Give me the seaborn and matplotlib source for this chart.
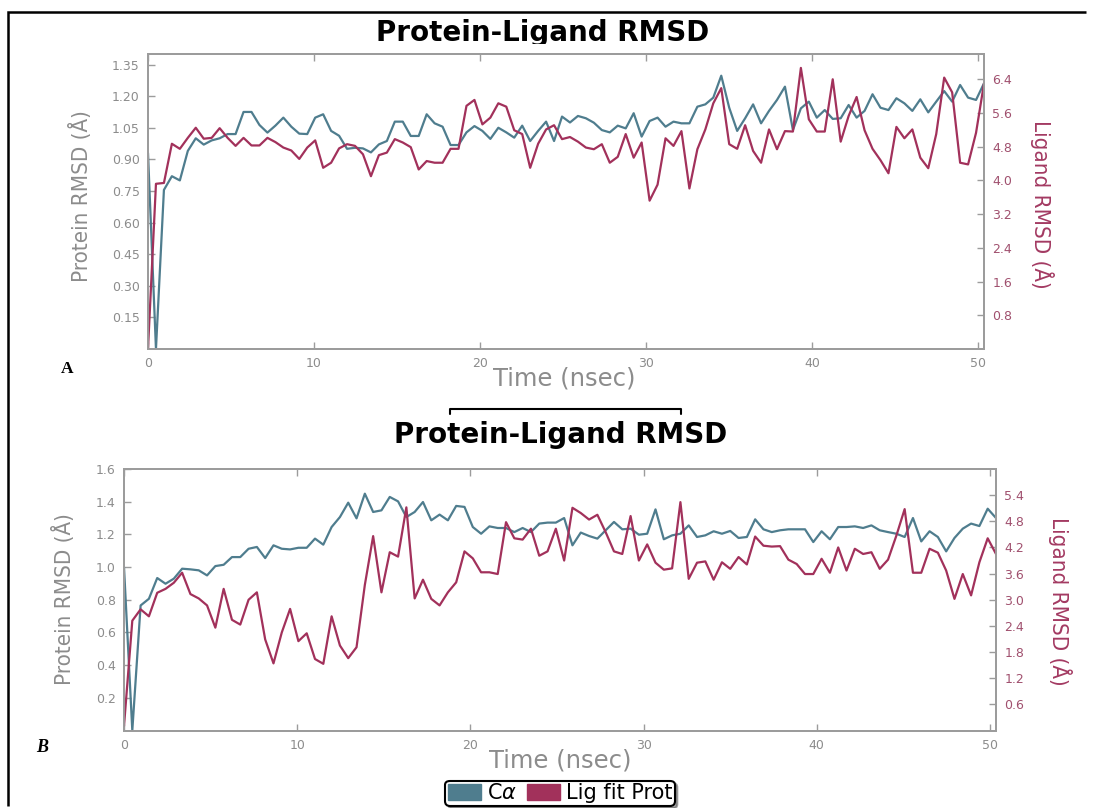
import numpy as np
import pandas as pd
import matplotlib
matplotlib.use("Agg")
import matplotlib.pyplot as plt
from matplotlib import font_manager
from matplotlib.patches import Patch, Rectangle
from matplotlib.lines import Line2D
import seaborn as sns

# ---------------------------------------------------------------- data
N_FRAMES = 106
T_END = 50.35  # ns

# Panel A
ca_rmsd_a = [
    0.93, 0.00, 0.755, 0.82, 0.80, 0.94, 1.00, 0.97, 0.99, 1.00,
    1.02, 1.02, 1.125, 1.125, 1.063, 1.027, 1.06, 1.098, 1.055, 1.022,
    1.02, 1.098, 1.114, 1.035, 1.012, 0.95, 0.955, 0.952, 0.933, 0.971,
    0.987, 1.079, 1.079, 1.011, 1.011, 1.114, 1.071, 1.055, 0.968, 0.968,
    1.028, 1.058, 1.035, 0.997, 1.050, 1.028, 1.003, 1.060, 0.987, 1.035,
    1.079, 0.987, 1.103, 1.075, 1.106, 1.095, 1.074, 1.039, 1.028, 1.060,
    1.047, 1.119, 1.008, 1.082, 1.098, 1.055, 1.079, 1.071, 1.071, 1.150,
    1.161, 1.193, 1.297, 1.145, 1.035, 1.095, 1.161, 1.071, 1.130, 1.182,
    1.245, 1.039, 1.142, 1.174, 1.098, 1.134, 1.092, 1.095, 1.158, 1.098,
    1.130, 1.209, 1.145, 1.134, 1.190, 1.166, 1.130, 1.185, 1.123, 1.174,
    1.224, 1.174, 1.253, 1.193, 1.182, 1.261,
]
lig_rmsd_a = [
    0.00, 3.92, 3.94, 4.87, 4.75, 5.01, 5.25, 4.99, 5.01, 5.24,
    5.01, 4.82, 5.01, 4.83, 4.83, 5.01, 4.91, 4.78, 4.71, 4.51,
    4.78, 4.95, 4.30, 4.42, 4.76, 4.86, 4.82, 4.62, 4.10, 4.60,
    4.66, 4.98, 4.90, 4.79, 4.26, 4.46, 4.42, 4.42, 4.75, 4.75,
    5.77, 5.91, 5.33, 5.49, 5.83, 5.75, 5.19, 5.10, 4.30, 4.87,
    5.21, 5.31, 4.98, 5.03, 4.92, 4.78, 4.74, 4.86, 4.42, 4.56,
    5.10, 4.54, 4.90, 3.52, 3.90, 5.00, 4.82, 5.17, 3.81, 4.74,
    5.21, 5.83, 6.19, 4.86, 4.75, 5.31, 4.70, 4.42, 5.21, 4.74,
    5.17, 5.16, 6.67, 5.45, 5.16, 5.16, 6.40, 4.92, 5.53, 5.98,
    5.19, 4.75, 4.48, 4.17, 5.27, 5.00, 5.21, 4.54, 4.29, 5.10,
    6.44, 6.09, 4.42, 4.38, 5.13, 6.30,
]

# Panel B
ca_rmsd_b = [
    1.000, 0.00, 0.765, 0.806, 0.933, 0.898, 0.929, 0.990, 0.986, 0.980,
    0.949, 1.006, 1.014, 1.061, 1.061, 1.112, 1.123, 1.055, 1.133, 1.112,
    1.108, 1.118, 1.118, 1.174, 1.137, 1.245, 1.306, 1.394, 1.298, 1.449,
    1.337, 1.347, 1.429, 1.402, 1.306, 1.337, 1.398, 1.286, 1.321, 1.286,
    1.374, 1.368, 1.245, 1.204, 1.249, 1.239, 1.239, 1.214, 1.239, 1.214,
    1.266, 1.272, 1.272, 1.300, 1.133, 1.211, 1.190, 1.174, 1.225, 1.276,
    1.231, 1.235, 1.198, 1.204, 1.353, 1.170, 1.194, 1.204, 1.255, 1.184,
    1.194, 1.219, 1.204, 1.221, 1.178, 1.184, 1.292, 1.231, 1.214, 1.225,
    1.231, 1.231, 1.231, 1.153, 1.219, 1.170, 1.245, 1.245, 1.249, 1.239,
    1.255, 1.225, 1.214, 1.204, 1.184, 1.300, 1.157, 1.219, 1.184, 1.096,
    1.178, 1.235, 1.266, 1.251, 1.357, 1.300,
]
lig_rmsd_b = [
    0.10, 2.52, 2.78, 2.62, 3.16, 3.25, 3.39, 3.62, 3.13, 3.03,
    2.87, 2.36, 3.25, 2.54, 2.43, 3.00, 3.17, 2.09, 1.54, 2.25,
    2.79, 2.05, 2.23, 1.64, 1.53, 2.62, 1.95, 1.66, 1.91, 3.34,
    4.46, 3.17, 4.09, 3.99, 5.12, 3.03, 3.46, 3.02, 2.87, 3.17,
    3.40, 4.11, 3.95, 3.63, 3.63, 3.59, 4.78, 4.41, 4.38, 4.63,
    4.01, 4.11, 4.63, 3.90, 5.11, 4.99, 4.84, 4.95, 4.55, 4.11,
    4.05, 4.92, 3.90, 4.27, 3.85, 3.69, 3.72, 5.24, 3.48, 3.85,
    3.88, 3.46, 3.86, 3.71, 3.98, 3.81, 4.45, 4.24, 4.22, 4.23,
    3.92, 3.82, 3.59, 3.59, 3.94, 3.62, 4.20, 3.67, 4.17, 4.05,
    4.09, 3.71, 3.92, 4.47, 5.08, 3.62, 3.62, 4.17, 4.08, 3.67,
    3.02, 3.59, 3.10, 3.86, 4.41, 4.05,
]

x_ticks = [0, 10, 20, 30, 40, 50]
left_ticks_a = [0.15, 0.30, 0.45, 0.60, 0.75, 0.90, 1.05, 1.20, 1.35]
right_ticks_a = [0.8, 1.6, 2.4, 3.2, 4.0, 4.8, 5.6, 6.4]
left_ticks_b = [0.2, 0.4, 0.6, 0.8, 1.0, 1.2, 1.4, 1.6]
right_ticks_b = [0.6, 1.2, 1.8, 2.4, 3.0, 3.6, 4.2, 4.8, 5.4]

title_text = "Protein-Ligand RMSD"
x_label = "Time (nsec)"
left_label = "Protein RMSD (Å)"
right_label = "Ligand RMSD (Å)"
ca_name = "C$\\alpha$"
lig_name = "Lig fit Prot"

# ---------------------------------------------------------------- style
CA_COLOR = "#4f7d8e"
LIG_COLOR = "#a2315b"
GREY_TXT = "#8c8c8c"
LIG_TXT = "#a33a62"
SPINE = "#9c9c9c"

sns.set_theme(style="white")
plt.rcParams["font.family"] = ["DejaVu Sans"]

fonts = font_manager.fontManager.ttflist
installed = {f.name for f in fonts}
label_kw = {"family": "DejaVu Sans", "fontsize": 14.5}
if "Liberation Sans Narrow" in installed:
    label_kw = {"family": "Liberation Sans Narrow", "fontsize": 19}
elif any(f.name == "DejaVu Sans" and f.stretch == "condensed" for f in fonts):
    label_kw = {"family": "DejaVu Sans", "fontsize": 16, "fontstretch": "condensed"}
serif_font = "Liberation Serif" if "Liberation Serif" in installed else "DejaVu Serif"

W, H = 1093, 808
fig = plt.figure(figsize=(W / 100, H / 100), dpi=100)
fig.patch.set_facecolor("white")


def px_rect(left, top, right, bottom):
    return [left / W, 1 - bottom / H, (right - left) / W, (bottom - top) / H]


time_ns = np.linspace(0.0, T_END, N_FRAMES)


def draw_panel(ax, ca, lig, lticks, llim, lfmt, rticks, rlim, rfmt,
               lpos, rpos, xpos):
    df = pd.DataFrame({"time": time_ns, "ca": ca, "lig": lig})
    sns.lineplot(data=df, x="time", y="ca", ax=ax, color=CA_COLOR,
                 linewidth=1.6, estimator=None, sort=False, legend=False)
    ax2 = ax.twinx()
    sns.lineplot(data=df, x="time", y="lig", ax=ax2, color=LIG_COLOR,
                 linewidth=1.6, estimator=None, sort=False, legend=False)

    ax.set_xlim(0, T_END)
    ax.set_ylim(*llim)
    ax2.set_ylim(*rlim)
    ax.set_xticks(x_ticks)
    ax.set_xticklabels([str(v) for v in x_ticks])
    ax.set_yticks(lticks)
    ax.set_yticklabels([lfmt.format(v) for v in lticks])
    ax2.set_yticks(rticks)
    ax2.set_yticklabels([rfmt.format(v) for v in rticks])

    for a in (ax, ax2):
        for s in a.spines.values():
            s.set_color(SPINE)
            s.set_linewidth(1.3)
    ax.set_facecolor("white")
    ax2.patch.set_visible(False)

    ax.tick_params(axis="x", direction="in", length=5, width=1, color=SPINE,
                   top=True, bottom=True, labelsize=9, labelcolor=GREY_TXT, pad=6)
    ax.tick_params(axis="y", direction="in", length=5, width=1, color=SPINE,
                   left=True, right=False, labelsize=9, labelcolor=GREY_TXT, pad=6)
    ax2.tick_params(axis="y", direction="in", length=5, width=1, color=SPINE,
                    right=True, left=False, labelsize=9, labelcolor="#a0506e", pad=6)

    ax.set_xlabel(x_label, fontsize=17.5, color=GREY_TXT, ha="center", va="center")
    ax.xaxis.set_label_coords(*xpos)
    ax.set_ylabel(left_label, color=GREY_TXT, rotation=90, ha="center",
                  va="center", rotation_mode="anchor", **label_kw)
    ax.yaxis.set_label_coords(*lpos)
    ax2.set_ylabel(right_label, color=LIG_TXT, rotation=270, ha="center",
                   va="center", rotation_mode="anchor", **label_kw)
    ax2.yaxis.set_label_coords(*rpos)
    return ax2


ax_a = fig.add_axes(px_rect(148, 54, 984, 349))
draw_panel(ax_a, ca_rmsd_a, lig_rmsd_a,
           left_ticks_a, (0, 1.40), "{:.2f}",
           right_ticks_a, (0, 7.0), "{:.1f}",
           lpos=(-0.081, 0.52), rpos=(1.069, 0.49), xpos=(0.498, -0.10))

ax_b = fig.add_axes(px_rect(124, 469, 996, 730.5))
draw_panel(ax_b, ca_rmsd_b, lig_rmsd_b,
           left_ticks_b, (0, 1.6), "{:.1f}",
           right_ticks_b, (0, 6.0), "{:.1f}",
           lpos=(-0.069, 0.503), rpos=(1.073, 0.495), xpos=(0.50, -0.113))

# ---------------------------------------------------------------- titles
fig.text(543 / W, 1 - 41 / H, title_text, ha="center", va="baseline",
         fontsize=20, fontweight="bold", color="black")
fig.text(561 / W, 1 - 443 / H, title_text, ha="center", va="baseline",
         fontsize=20, fontweight="bold", color="black")
# strip under the upper heading (the heading sits in a cropped band)
fig.patches.append(Rectangle((355 / W, 1 - 53 / H), 380 / W, 9 / H,
                             transform=fig.transFigure, facecolor="white",
                             edgecolor="none", zorder=10))

# panel letters
fig.text(67 / W, 1 - 369 / H, "A", family=serif_font, fontweight="bold",
         fontsize=12.5, ha="center", va="center", color="black")
fig.text(42 / W, 1 - 748 / H, "B", family=serif_font, fontweight="bold",
         fontstyle="italic", fontsize=13, ha="center", va="center", color="black")

# outer frame: top and left edges
frame_x = np.array([1086, 7.5, 7.5]) / W
frame_y = 1 - np.array([11.5, 11.5, 806]) / H
fig.add_artist(Line2D(frame_x, frame_y, transform=fig.transFigure,
                      color="black", linewidth=1.8, solid_joinstyle="miter",
                      solid_capstyle="butt"))

# cropped box edge between the panels
bx = np.array([450, 450, 681, 681]) / W
by = 1 - np.array([414, 409.5, 409.5, 414]) / H
fig.add_artist(Line2D(bx, by, transform=fig.transFigure, color="black",
                      linewidth=1.5, solid_joinstyle="round"))

# legend
handles = [Patch(facecolor=CA_COLOR, edgecolor=CA_COLOR, label=ca_name),
           Patch(facecolor=LIG_COLOR, edgecolor=LIG_COLOR, label=lig_name)]
leg = fig.legend(handles=handles, loc="center", bbox_to_anchor=(560 / W, 1 - 793 / H),
                 ncol=2, frameon=True, fancybox=True, shadow=True,
                 fontsize=15, handlelength=1.6, handleheight=0.8,
                 handletextpad=0.25, columnspacing=0.5, borderpad=0.12,
                 borderaxespad=0.0, labelcolor="black")
leg.get_frame().set_edgecolor("black")
leg.get_frame().set_linewidth(1.5)

fig.savefig("out.png", dpi=100, facecolor="white")
